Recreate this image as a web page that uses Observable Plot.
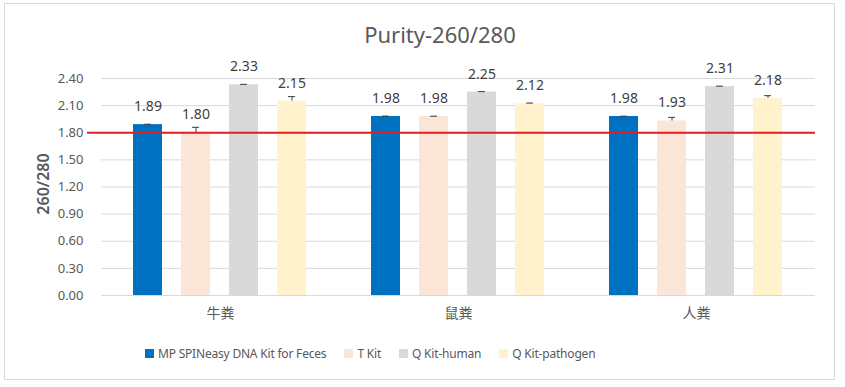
<!DOCTYPE html>
<html>
<head>
<meta charset="utf-8">
<script src="https://cdn.jsdelivr.net/npm/d3@7"></script>
<script src="https://cdn.jsdelivr.net/npm/@observablehq/plot@0.6"></script>
<style>
  html, body { margin: 0; padding: 0; background: #fff; }
  #wrap { position: relative; width: 845px; height: 387px; overflow: hidden; font-family: "Noto Sans", "Noto Sans CJK SC", sans-serif; color: #595959; }
  #border { position: absolute; left: 4px; top: 3px; width: 831px; height: 377px; border: 1px solid #d9d9d9; box-sizing: border-box; }
  #title { position: absolute; left: 0; top: 19px; width: 880px; text-align: center; font-size: 22px; color: #595959; }
  #chart { position: absolute; left: 0; top: 0; }
  #legend { position: absolute; left: 145px; top: 345px; display: flex; align-items: center; font-size: 12px; color: #595959; white-space: nowrap; letter-spacing: -0.2px; }
  #legend .item { display: flex; align-items: center; margin-right: 18px; }
  #legend .sw { width: 9px; height: 9px; margin-right: 4px; }
</style>
</head>
<body>
<div id="wrap">
  <div id="border"></div>
  <div id="chart"></div>
  <div id="title">Purity-260/280</div>
  <div id="legend"></div>
</div>
<script>
const categories = ["牛粪", "鼠粪", "人粪"];
const series = ["MP SPINeasy DNA Kit for Feces", "T Kit", "Q Kit-human", "Q Kit-pathogen"];
const seriesColors = ["#0070C0", "#FBE5D6", "#D9D9D9", "#FFF2CC"];
const mpValues = [1.89, 1.98, 1.98];
const tValues = [1.80, 1.98, 1.93];
const qHumanValues = [2.33, 2.25, 2.31];
const qPathogenValues = [2.15, 2.12, 2.18];
const mpErr = [0.004, 0.004, 0.003];
const tErr = [0.06, 0.003, 0.04];
const qHumanErr = [0.005, 0.005, 0.005];
const qPathogenErr = [0.05, 0.008, 0.03];
const yTicks = [0, 0.3, 0.6, 0.9, 1.2, 1.5, 1.8, 2.1, 2.4];
const threshold = 1.8;

const values = [mpValues, tValues, qHumanValues, qPathogenValues];
const errs = [mpErr, tErr, qHumanErr, qPathogenErr];
const rows = categories.flatMap((c, i) => series.map((s, j) => ({
  category: c, series: s, value: values[j][i], err: errs[j][i]
})));
// threshold line: first panel gets a short extension to the left, others plain
const thresholdFirst = [{ category: categories[0], y: threshold }];
const thresholdRest = categories.slice(1).map(c => ({ category: c, y: threshold }));

const chart = Plot.plot({
  width: 845,
  height: 387,
  marginLeft: 100,
  marginRight: 29,
  marginTop: 78,
  marginBottom: 92,
  style: { fontFamily: '"Noto Sans", "Noto Sans CJK SC", sans-serif', color: "#595959", background: "transparent", overflow: "visible" },
  fx: { domain: categories, padding: 0, label: null },
  x: { domain: series, paddingInner: 0.39, paddingOuter: 0.63, axis: null },
  y: { domain: [0, 2.4], label: null },
  color: { domain: series, range: seriesColors },
  marks: [
    Plot.gridY(yTicks, { stroke: "#d9d9d9", strokeOpacity: 1 }),
    Plot.axisY(yTicks, { tickSize: 0, tickPadding: 18, tickFormat: d3.format(".2f"), fontSize: 13, fill: "#595959", label: null }),
    Plot.axisFx({ anchor: "bottom", tickSize: 0, tickPadding: 13, fontSize: 14, fill: "#595959", label: null }),
    Plot.barY(rows, { fx: "category", x: "series", y: "value", fill: "series" }),
    Plot.ruleX(rows, { fx: "category", x: "series", y1: "value", y2: d => d.value + d.err, stroke: "#404040", strokeWidth: 1 }),
    Plot.tickY(rows, { fx: "category", x: "series", y: d => d.value + d.err, stroke: "#404040", strokeWidth: 1, insetLeft: 11, insetRight: 11 }),
    Plot.text(rows, { fx: "category", x: "series", y: "value", text: d => d.value.toFixed(2), dy: -18, fontSize: 14, fill: "#404040" }),
    Plot.ruleY(thresholdFirst, { fx: "category", y: "y", stroke: "#E01E24", strokeWidth: 2, insetLeft: -14 }),
    Plot.ruleY(thresholdRest, { fx: "category", y: "y", stroke: "#E01E24", strokeWidth: 2 })
  ]
});
document.getElementById("chart").appendChild(chart);

const yl = document.createElement("div");
yl.textContent = "260/280";
Object.assign(yl.style, { position: "absolute", left: "43px", top: "184px", transform: "translate(-50%,-50%) rotate(-90deg)", fontSize: "16px", fontWeight: "600", color: "#595959", whiteSpace: "nowrap" });
document.getElementById("wrap").appendChild(yl);

const legend = document.getElementById("legend");
series.forEach((s, i) => {
  const it = document.createElement("div");
  it.className = "item";
  const sw = document.createElement("div");
  sw.className = "sw";
  sw.style.background = seriesColors[i];
  const tx = document.createElement("span");
  tx.textContent = s;
  it.appendChild(sw); it.appendChild(tx);
  legend.appendChild(it);
});
</script>
</body>
</html>
